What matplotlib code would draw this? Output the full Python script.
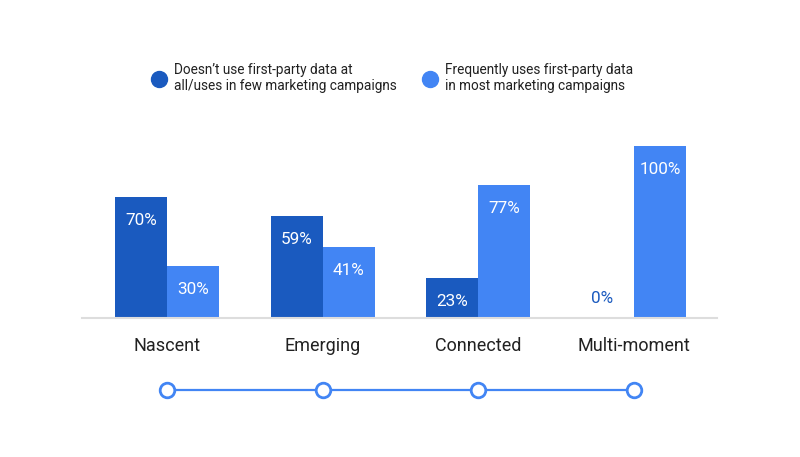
import matplotlib
matplotlib.use("Agg")
import matplotlib.pyplot as plt
from matplotlib.lines import Line2D
import numpy as np

plt.rcParams["font.family"] = ["Roboto", "DejaVu Sans"]

# dados
categorias = ["Nascent", "Emerging", "Connected", "Multi-moment"]
nao_usa = [70, 59, 23, 0]
usa_freq = [30, 41, 77, 100]
legenda = ["Doesn\u2019t use first-party data at\nall/uses in few marketing campaigns",
           "Frequently uses first-party data\nin most marketing campaigns"]

escuro = "#1a5abf"
claro = "#4285f4"

W, H = 800, 457
fig = plt.figure(figsize=(W / 100, H / 100), dpi=100)

# eixo das barras (posição em pixels convertida)
x0, x1 = 82, 717
y_base, y_top = 317.5, 146
ax = fig.add_axes([x0 / W, (H - y_base) / H, (x1 - x0) / W, (y_base - y_top) / H])

passo = (634 - 167) / 3
ax.set_xlim((x0 - 167) / passo, (x1 - 167) / passo)
ax.set_ylim(0, 100)

x = np.arange(len(categorias))
larg = 52 / passo
b1 = ax.bar(x - larg / 2, nao_usa, larg, color=escuro)
b2 = ax.bar(x + larg / 2, usa_freq, larg, color=claro)

# rótulos de percentagem
off = 23 / (y_base - y_top) * 100
for barras in (b1, b2):
    for r in barras:
        v = r.get_height()
        cx = r.get_x() + r.get_width() / 2
        if v == 0:
            ax.text(cx - 0.04, 11, f"{v:.0f}%", ha="center", va="center",
                    color=escuro, fontsize=12.3)
        else:
            ax.text(cx, v - off, f"{v:.0f}%", ha="center", va="center",
                    color="white", fontsize=12.3)

for s in ["top", "right", "left"]:
    ax.spines[s].set_visible(False)
ax.spines["bottom"].set_color("#dddddd")
ax.spines["bottom"].set_linewidth(1.5)
ax.set_yticks([])
ax.set_xticks(x)
ax.set_xticklabels(categorias, fontsize=13, color="#212121")
ax.tick_params(axis="x", length=0, pad=14)

# linha do tempo
ax2 = fig.add_axes([x0 / W, (H - 400) / H, (x1 - x0) / W, 20 / H])
ax2.set_xlim(ax.get_xlim())
ax2.set_ylim(-1, 1)
ax2.plot(x, np.zeros(len(x)), color=claro, lw=1.6, marker="o", markersize=10.5,
         markerfacecolor="white", markeredgecolor=claro, markeredgewidth=2)
ax2.axis("off")

# legenda
handles = [Line2D([], [], ls="none", marker="o", markersize=11.5, color=escuro),
           Line2D([], [], ls="none", marker="o", markersize=11.5, color=claro)]
fig.legend(handles, legenda, loc="center", bbox_to_anchor=(392 / W, (H - 78) / H),
           ncol=2, frameon=False, fontsize=9.8, handletextpad=0.48,
           columnspacing=1.85, handlelength=1.2, labelcolor="#212121")

fig.savefig("out.png", dpi=100)
